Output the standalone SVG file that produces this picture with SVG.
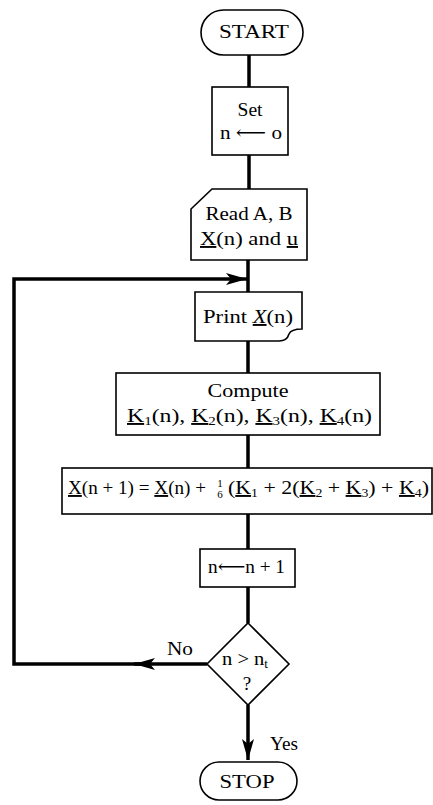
<svg xmlns="http://www.w3.org/2000/svg" width="433" height="805" viewBox="0 0 433 805">
<style>
.box{fill:#fff;stroke:#000;stroke-width:1.6}
.con{fill:none;stroke:#000;stroke-width:3.5}
text{font-family:"Liberation Serif","DejaVu Serif",serif;font-size:19px;fill:#000}
.c{text-anchor:middle}
.u{text-decoration:underline}
.sub{font-size:12px}
.frac{font-size:11px}
</style>
<defs>
<marker id="ah" markerUnits="userSpaceOnUse" markerWidth="22" markerHeight="14" refX="21" refY="6" orient="auto">
<path d="M0,0 L21,6 L0,12 L5,6 Z" fill="#000"/>
</marker>
</defs>
<rect width="433" height="805" fill="#fff"/>
<g id="connectors">
<path class="con" d="M249,55 V87"/>
<path class="con" d="M249,155 V189"/>
<path class="con" d="M248,260 V292"/>
<path class="con" d="M248,341 V373"/>
<path class="con" d="M248,435 V468"/>
<path class="con" d="M248,514 V549"/>
<path class="con" d="M248,587 V623"/>
<path class="con" d="M248,705 V760" marker-end="url(#ah)"/>
<path class="con" d="M207,664 H134" marker-end="url(#ah)"/>
<path class="con" d="M140,664 H14 V279 H247" marker-end="url(#ah)"/>
</g>
<g id="start">
<rect class="box" x="201" y="10" width="102" height="45" rx="22.5"/>
<text class="c" x="254" y="38" textLength="70" lengthAdjust="spacingAndGlyphs">START</text>
</g>
<g id="set">
<rect class="box" x="212" y="87" width="76" height="68"/>
<text class="c" x="250" y="116" textLength="25" lengthAdjust="spacingAndGlyphs">Set</text>
<text class="c" x="251" y="139" textLength="62" lengthAdjust="spacingAndGlyphs">n ⟵ o</text>
</g>
<g id="read">
<path class="box" d="M212,189 H307 V260 H191 V209 Z"/>
<text class="c" x="249" y="220" textLength="87" lengthAdjust="spacingAndGlyphs">Read A, B</text>
<text class="c" x="249" y="245" textLength="98" lengthAdjust="spacingAndGlyphs"><tspan class="u">X</tspan>(n) and <tspan class="u">u</tspan></text>
</g>
<g id="print">
<path class="box" d="M195,292 H302 V329 Q291,329 289,334 Q287,341 279,341 H195 Z"/>
<text class="c" x="248" y="323" textLength="90" lengthAdjust="spacingAndGlyphs">Print <tspan class="u" font-style="italic">X</tspan>(n)</text>
</g>
<g id="compute">
<rect class="box" x="116" y="373" width="264" height="62"/>
<text class="c" x="248" y="397" textLength="81" lengthAdjust="spacingAndGlyphs">Compute</text>
<text x="127" y="422" textLength="245" lengthAdjust="spacingAndGlyphs"><tspan class="u">K</tspan><tspan class="sub" dy="3">1</tspan><tspan dy="-3">(n), </tspan><tspan class="u">K</tspan><tspan class="sub" dy="3">2</tspan><tspan dy="-3">(n), </tspan><tspan class="u">K</tspan><tspan class="sub" dy="3">3</tspan><tspan dy="-3">(n), </tspan><tspan class="u">K</tspan><tspan class="sub" dy="3">4</tspan><tspan dy="-3">(n)</tspan></text>
</g>
<g id="update">
<rect class="box" x="62" y="468" width="370" height="46"/>
<text x="68" y="494" textLength="138" lengthAdjust="spacingAndGlyphs"><tspan class="u">X</tspan>(n + 1) = <tspan class="u">X</tspan>(n) +</text>
<text class="frac c" x="220" y="487">1</text>
<text class="frac c" x="220" y="498">6</text>
<text x="228" y="494" textLength="201" lengthAdjust="spacingAndGlyphs">(<tspan class="u">K</tspan><tspan class="sub" dy="3">1</tspan><tspan dy="-3"> + 2(</tspan><tspan class="u">K</tspan><tspan class="sub" dy="3">2</tspan><tspan dy="-3"> + </tspan><tspan class="u">K</tspan><tspan class="sub" dy="3">3</tspan><tspan dy="-3">) + </tspan><tspan class="u">K</tspan><tspan class="sub" dy="3">4</tspan><tspan dy="-3">)</tspan></text>
</g>
<g id="increment">
<rect class="box" x="200" y="549" width="95" height="38"/>
<text x="208" y="573" textLength="77" lengthAdjust="spacingAndGlyphs">n⟵n + 1</text>
</g>
<g id="decision">
<path class="box" d="M248,623 L289,664 L248,705 L207,664 Z"/>
<text x="222" y="665" textLength="46" lengthAdjust="spacingAndGlyphs">n &gt; n<tspan class="sub" dy="3">t</tspan></text>
<text class="c" x="247" y="690">?</text>
</g>
<g id="stop">
<rect class="box" x="200" y="762" width="97" height="38" rx="19"/>
<text class="c" x="247" y="788" textLength="55" lengthAdjust="spacingAndGlyphs">STOP</text>
</g>
<g id="labels">
<text x="167" y="655" textLength="26" lengthAdjust="spacingAndGlyphs">No</text>
<text x="270" y="750" textLength="28" lengthAdjust="spacingAndGlyphs">Yes</text>
</g>
</svg>
